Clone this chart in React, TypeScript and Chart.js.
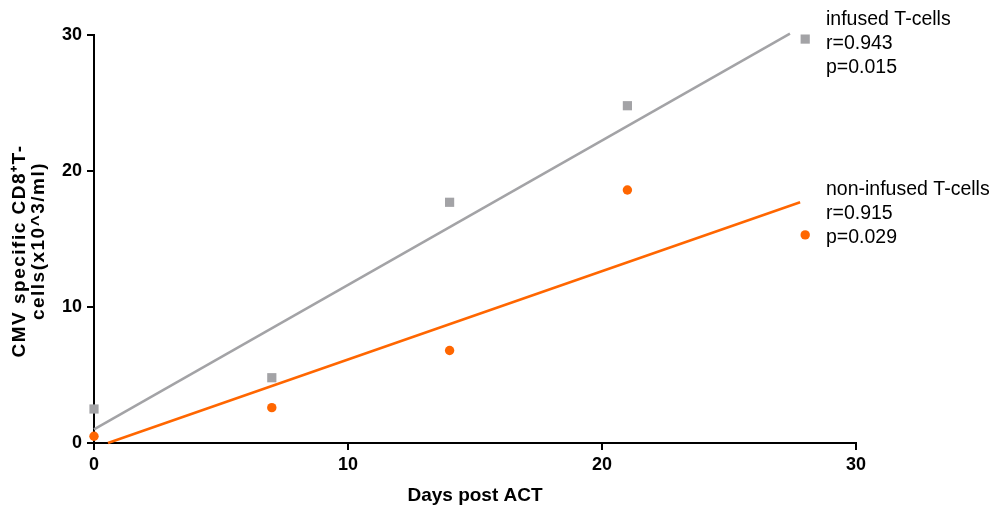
import React, { useEffect, useRef } from "react";
import { Chart, registerables } from "chart.js";

Chart.register(...registerables);

const days = [0, 7, 14, 21, 28];
const infused = [2.5, 4.8, 17.7, 24.8, 29.7];
const nonInfused = [0.5, 2.6, 6.8, 18.6, 15.3];
const infusedFitX = [0, 27.4];
const infusedFitY = [1.0, 30.1];
const nonInfusedFitX = [0.55, 27.8];
const nonInfusedFitY = [0, 17.7];
const xTicks = [0, 10, 20, 30];
const yTicks = [0, 10, 20, 30];
const yTitleLines = ["CMV specific CD8\u207AT-", "cells(x10^3/ml)"];
const infusedNotes = ["infused T-cells", "r=0.943", "p=0.015"];
const nonInfusedNotes = ["non-infused T-cells", "r=0.915", "p=0.029"];

const GRAY = "#A3A3A6";
const ORANGE = "#FF6600";
const FONT = "'Liberation Sans', Arial, Helvetica, sans-serif";

const notesPlugin = {
  id: "notes",
  afterDraw(chart: any) {
    const ctx = chart.ctx;
    const area = chart.chartArea;
    ctx.save();
    ctx.fillStyle = "#000";
    ctx.font = `19.5px ${FONT}`;
    ctx.textAlign = "left";
    ctx.textBaseline = "middle";
    const x = area.right - 30;
    infusedNotes.forEach((t, i) => ctx.fillText(t, x, 20 + i * 24));
    nonInfusedNotes.forEach((t, i) => ctx.fillText(t, x, 190 + i * 24));
    ctx.restore();

    // rotated y-axis title
    const mid = (area.top + area.bottom) / 2;
    const offsets = [{ x: 20, dy: 12 }, { x: 39, dy: 2 }];
    ctx.save();
    ctx.fillStyle = "#000";
    ctx.font = `bold 19px ${FONT}`;
    (ctx as any).letterSpacing = "1.5px";
    ctx.textAlign = "center";
    ctx.textBaseline = "middle";
    yTitleLines.forEach((t, i) => {
      ctx.save();
      ctx.translate(offsets[i].x, mid + offsets[i].dy);
      ctx.rotate(-Math.PI / 2);
      ctx.fillText(t, 0, 0);
      ctx.restore();
    });
    ctx.restore();
  },
};

export default function App() {
  const ref = useRef<HTMLCanvasElement>(null);
  useEffect(() => {
    const toPts = (xs: number[], ys: number[]) => xs.map((x, i) => ({ x, y: ys[i] }));
    const chart = new Chart(ref.current!, {
      type: "scatter",
      data: {
        datasets: [
          {
            type: "line",
            data: toPts(infusedFitX, infusedFitY),
            borderColor: GRAY,
            borderWidth: 2.5,
            pointRadius: 0,
            clip: false,
          } as any,
          {
            type: "line",
            data: toPts(nonInfusedFitX, nonInfusedFitY),
            borderColor: ORANGE,
            borderWidth: 2.5,
            pointRadius: 0,
            clip: false,
          } as any,
          {
            data: toPts(days, infused),
            pointStyle: "rect",
            pointRadius: 6.5,
            backgroundColor: GRAY,
            borderWidth: 0,
            clip: false,
          } as any,
          {
            data: toPts(days, nonInfused),
            pointStyle: "circle",
            pointRadius: 4.7,
            backgroundColor: ORANGE,
            borderWidth: 0,
            clip: false,
          } as any,
        ],
      },
      options: {
        animation: false,
        responsive: false,
        maintainAspectRatio: false,
        layout: { padding: { top: 35, right: 138, left: 0, bottom: 0 } },
        plugins: { legend: { display: false }, tooltip: { enabled: false } },
        scales: {
          x: {
            type: "linear",
            min: 0,
            max: 30,
            afterBuildTicks: (s: any) => {
              s.ticks = xTicks.map((v) => ({ value: v }));
            },
            afterFit: (s: any) => {
              s.height = 67;
            },
            grid: { drawOnChartArea: false, drawTicks: true, tickLength: 7, color: "#000", lineWidth: 2 },
            border: { display: true, color: "#000", width: 2 },
            ticks: { color: "#000", font: { family: FONT, size: 18, weight: "bold" }, padding: 4 },
            title: {
              display: true,
              text: "Days post ACT",
              color: "#000",
              font: { family: FONT, size: 19, weight: "bold", lineHeight: 1 },
              padding: { top: 0, bottom: 5 },
            },
          },
          y: {
            type: "linear",
            min: 0,
            max: 30,
            afterBuildTicks: (s: any) => {
              s.ticks = yTicks.map((v) => ({ value: v }));
            },
            afterFit: (s: any) => {
              s.width = 94;
            },
            grid: { drawOnChartArea: false, drawTicks: true, tickLength: 7, color: "#000", lineWidth: 2 },
            border: { display: true, color: "#000", width: 2 },
            ticks: { color: "#000", font: { family: FONT, size: 18, weight: "bold" }, padding: 5 },
            title: { display: false },
          },
        },
      },
      plugins: [notesPlugin],
    });
    return () => chart.destroy();
  }, []);
  return (
    <div style={{ position: "fixed", left: 0, top: 0, width: 994, height: 510, background: "#fff" }}>
      <canvas ref={ref} width={994} height={510} style={{ width: 994, height: 510 }} />
    </div>
  );
}
